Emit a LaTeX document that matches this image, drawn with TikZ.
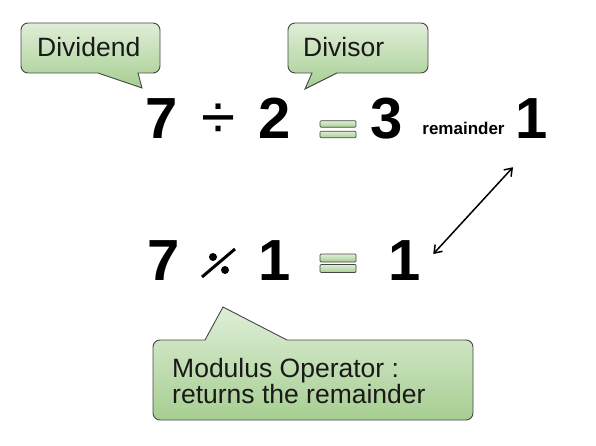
\documentclass[tikz,border=0pt]{standalone}
\usepackage{fontspec}
\setmainfont{Liberation Sans}
\usetikzlibrary{arrows.meta}

\definecolor{balloonTop}{RGB}{223,238,215}
\definecolor{balloonBot}{RGB}{166,206,145}
\definecolor{balloonLine}{RGB}{70,70,70}

\begin{document}
\begin{tikzpicture}[
  x=1pt, y=-1pt,
  balloon/.style = {draw=balloonLine, line width=0.9pt, top color=balloonTop,
                    bottom color=balloonBot, rounded corners=7pt},
  note/.style    = {font=\fontsize{26.5}{26}\selectfont, inner sep=0pt,
                    anchor=base west, text=black!90},
  digit/.style   = {font=\fontsize{58}{62}\selectfont\bfseries, inner sep=0pt,
                    anchor=base},
  eqbar/.style   = {draw=balloonLine, line width=0.7pt, top color=balloonTop,
                    bottom color=balloonBot, rounded corners=1pt, inner sep=0pt},
  twoway/.style  = {{Straight Barb[length=7pt,width=10pt]}-{Straight Barb[length=7pt,width=10pt]},
                    line width=1.5pt}
]
\useasboundingbox (0,0) rectangle (596,446);

%% ---- callouts -----------------------------------------------------
\path[balloon] (90,23) -- (160,23) -- (160,73) -- (148,73) [sharp corners]
  -- (138,73) -- (142,88) -- (98,73) -- (88,73) [rounded corners=7pt]
  -- (21,73) -- (21,23) -- cycle;
\node[note] (dividend) at (37,57) {Dividend};

\path[balloon] (357,23) -- (428,23) -- (428,73) -- (347,73) [sharp corners]
  -- (337,73) -- (305,89) -- (312,73) -- (302,73) [rounded corners=7pt]
  -- (288,73) -- (288,23) -- cycle;
\node[note] (divisor) at (303,57) {Divisor};

\path[balloon] (300,420) -- (473,420) -- (473,340) -- (297,340) [sharp corners]
  -- (287,340) -- (223,307) -- (205,340) -- (195,340) [rounded corners=7pt]
  -- (153,340) -- (153,420) -- cycle;
\node[note, align=left] (modnote) at (172,403)
  {Modulus Operator :\\returns the remainder};

%% ---- division line ------------------------------------------------
\node[digit] (dvd)   at (162,139) {7};
\node[digit, font=\fontsize{62}{64}\selectfont] (divop) at (218.5,139) {÷};
\node[digit] (dvs)   at (275,139) {2};
\node[eqbar, minimum width=36pt, minimum height=6.5pt] (eqa) at (338,124) {};
\node[eqbar, minimum width=36pt, minimum height=6.5pt] (eqb) at (338,134.5) {};
\node[digit] (quot)  at (387,139) {3};
\node[font=\fontsize{17}{18}\selectfont\bfseries, inner sep=0pt, anchor=base]
  (remword) at (463.5,135) {remainder};
\node[digit] (rem)   at (532,139) {1};

%% ---- modulus line -------------------------------------------------
\node[digit] (mdvd) at (163.5,280) {7};
\node[minimum size=34pt, inner sep=0pt] (modop) at (218.5,263) {};
\draw[line width=3pt] ([shift={(-16.5,14)}]modop.center)
  -- ([shift={(16.5,-14)}]modop.center);
\fill ([shift={(-5.5,-6)}]modop.center) circle (4pt);
\fill ([shift={(6.5,7)}]modop.center) circle (4pt);
\node[digit] (mdvs) at (275,280) {1};
\node[eqbar, minimum width=36pt, minimum height=8pt] (eqc) at (338,258) {};
\node[eqbar, minimum width=36pt, minimum height=8pt] (eqd) at (338,268.5) {};
\node[digit] (res) at (404.5,280) {1};

\draw[twoway] ([shift={(12.4,-6)}]res.east) -- ([shift={(-19,28)}]rem.south);
\end{tikzpicture}
\end{document}
